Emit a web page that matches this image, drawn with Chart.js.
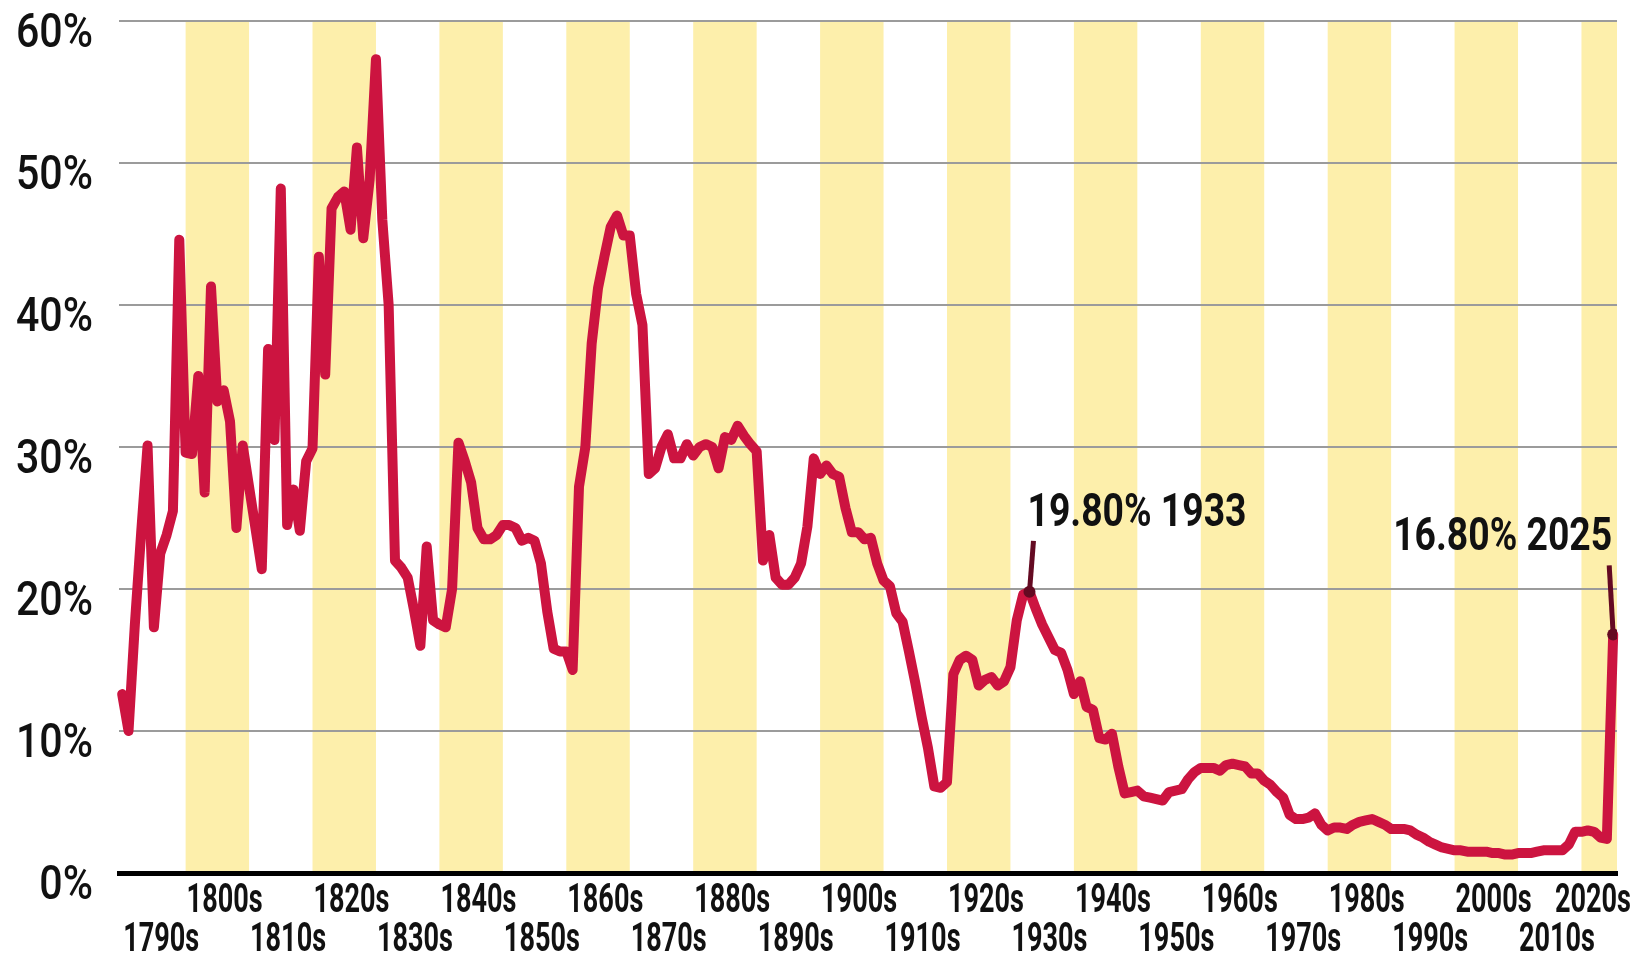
<!DOCTYPE html>
<html>
<head>
<meta charset="utf-8">
<title>Average US tariff rate, 1790-2025</title>
<script src="https://cdn.jsdelivr.net/npm/chart.js@4.4.1/dist/chart.umd.min.js"></script>
<style>
  html, body { margin: 0; padding: 0; background: #fff; }
  #wrap { width: 1634px; height: 958px; }
</style>
</head>
<body>
<div id="wrap"><canvas id="tariffChart" width="1634" height="958"></canvas></div>
<script>
const FONT = "Roboto, 'Liberation Sans', sans-serif";

// average tariff rate, one value per year from 1790 to 2025
const firstYear = 1790;
const rates = [
  12.6, 10.0, 17.5, 24.0, 30.1, 17.3, 22.5, 23.8, 25.5, 44.6,   // 1790s
  29.6, 29.5, 35.0, 26.8, 41.3, 33.2, 34.0, 31.8, 24.3, 30.1,   // 1800s
  27.2, 24.3, 21.4, 36.9, 30.5, 48.2, 24.5, 27.0, 24.1, 29.0,   // 1810s
  29.9, 43.4, 35.1, 46.8, 47.6, 48.0, 45.3, 51.1, 44.7, 48.8,   // 1820s
  57.3, 46.0, 40.0, 22.0, 21.5, 20.8, 18.5, 16.0, 23.0, 17.8,   // 1830s
  17.5, 17.3, 20.0, 30.3, 29.0, 27.5, 24.3, 23.5, 23.5, 23.8,   // 1840s
  24.5, 24.5, 24.3, 23.4, 23.6, 23.4, 21.8, 18.4, 15.8, 15.6,   // 1850s
  15.6, 14.3, 27.2, 30.0, 37.3, 41.2, 43.4, 45.5, 46.3, 44.9,   // 1860s
  44.9, 40.8, 38.6, 28.1, 28.5, 30.0, 30.9, 29.2, 29.2, 30.2,   // 1870s
  29.4, 30.0, 30.2, 30.0, 28.5, 30.7, 30.5, 31.5, 30.8, 30.2,   // 1880s
  29.7, 22.0, 23.8, 20.8, 20.3, 20.3, 20.8, 21.8, 24.4, 29.2,   // 1890s
  28.1, 28.7, 28.1, 27.9, 25.7, 24.0, 24.0, 23.5, 23.6, 21.8,   // 1900s
  20.6, 20.2, 18.3, 17.7, 15.6, 13.4, 11.0, 8.8, 6.1, 6.0,      // 1910s
  6.4, 14.0, 15.0, 15.3, 15.0, 13.2, 13.6, 13.8, 13.2, 13.5,    // 1920s
  14.5, 17.8, 19.6, 19.8, 18.6, 17.5, 16.6, 15.7, 15.5, 14.3,   // 1930s
  12.6, 13.5, 11.7, 11.5, 9.5, 9.4, 9.8, 7.5, 5.6, 5.7,         // 1940s
  5.8, 5.4, 5.3, 5.2, 5.1, 5.7, 5.8, 5.9, 6.6, 7.1,             // 1950s
  7.4, 7.4, 7.4, 7.2, 7.6, 7.7, 7.6, 7.5, 7.0, 7.0,             // 1960s
  6.5, 6.2, 5.7, 5.3, 4.1, 3.8, 3.8, 3.9, 4.2, 3.4,             // 1970s
  3.0, 3.2, 3.2, 3.1, 3.4, 3.6, 3.7, 3.8, 3.6, 3.4,             // 1980s
  3.1, 3.1, 3.1, 3.0, 2.7, 2.5, 2.2, 2.0, 1.8, 1.7,             // 1990s
  1.6, 1.6, 1.5, 1.5, 1.5, 1.5, 1.4, 1.4, 1.3, 1.3,             // 2000s
  1.4, 1.4, 1.4, 1.5, 1.6, 1.6, 1.6, 1.6, 2.0, 2.9,             // 2010s
  2.9, 3.0, 2.9, 2.5, 2.4, 16.8                                 // 2020s
];
const years = rates.map((r, i) => firstYear + i);

// y axis ticks
const yTicks = [0, 10, 20, 30, 40, 50, 60];

// decade tick labels along the bottom
const decadeStarts = [1790, 1800, 1810, 1820, 1830, 1840, 1850, 1860, 1870, 1880, 1890, 1900,
  1910, 1920, 1930, 1940, 1950, 1960, 1970, 1980, 1990, 2000, 2010, 2020];
const decadeLabels = ['1790s', '1800s', '1810s', '1820s', '1830s', '1840s', '1850s', '1860s',
  '1870s', '1880s', '1890s', '1900s', '1910s', '1920s', '1930s', '1940s', '1950s', '1960s',
  '1970s', '1980s', '1990s', '2000s', '2010s', '2020s'];

// yellow background stripes
const shadedDecades = [1800, 1820, 1840, 1860, 1880, 1900, 1920, 1940, 1960, 1980, 2000, 2020];

// highlighted points
const calloutYears = [1933, 2025];
const calloutLabels = ['19.80% 1933', '16.80% 2025'];

const lineData = years.map((yr, i) => ({ x: yr, y: rates[i] }));
const calloutData = calloutYears.map(yr => ({ x: yr, y: rates[yr - firstYear] }));

// the original uses a very condensed face; squeeze the installed one to the same width
function squeezeFor(ctx, sample, width) {
  return Math.min(1, width / ctx.measureText(sample).width);
}
function drawSqueezed(ctx, text, x, y, sx, align) {
  const w = ctx.measureText(text).width * sx;
  const left = align === 'right' ? x - w : x;
  ctx.save();
  ctx.translate(left, y);
  ctx.scale(sx, 1);
  ctx.textAlign = 'left';
  ctx.fillText(text, 0, 0);
  ctx.restore();
  return w;
}

// yellow decade stripes under everything
const decadeBands = {
  id: 'decadeBands',
  beforeDraw(chart) {
    const { ctx, chartArea: a, scales: { x } } = chart;
    ctx.save();
    ctx.fillStyle = '#fdefab';
    shadedDecades.forEach(d => {
      const x0 = Math.max(x.getPixelForValue(d), a.left);
      const x1 = Math.min(x.getPixelForValue(d + 10), a.right);
      ctx.fillRect(x0, a.top, x1 - x0, a.bottom - a.top);
    });
    ctx.restore();
  }
};

// axis labels: percent on the left, two staggered rows of decades below
const axisLabels = {
  id: 'axisLabels',
  afterDraw(chart) {
    const { ctx, chartArea: a, scales: { x, y } } = chart;
    ctx.save();
    ctx.fillStyle = '#111';
    ctx.textBaseline = 'alphabetic';

    ctx.font = '500 48px ' + FONT;
    const sy = squeezeFor(ctx, '60%', 77);
    yTicks.forEach(v => {
      drawSqueezed(ctx, v + '%', a.left - 26, y.getPixelForValue(v) + 26, sy, 'right');
    });

    ctx.font = '700 41px ' + FONT;
    const sx = squeezeFor(ctx, '1800s', 76);
    decadeStarts.forEach((d, i) => {
      const upper = (d / 10) % 2 === 0;
      const w = ctx.measureText(decadeLabels[i]).width * sx;
      let left = x.getPixelForValue(d) + 1;
      if (left + w > chart.width - 3) left = chart.width - 3 - w;
      drawSqueezed(ctx, decadeLabels[i], left, a.bottom + (upper ? 39 : 78), sx, 'left');
    });
    ctx.restore();
  }
};

// leader lines and value labels for the highlighted points
const callouts = {
  id: 'callouts',
  afterDatasetsDraw(chart) {
    const { ctx, scales: { x, y } } = chart;
    ctx.save();
    ctx.strokeStyle = '#640a22';
    ctx.lineWidth = 5;
    ctx.fillStyle = '#111';
    ctx.font = '700 47px ' + FONT;
    ctx.textBaseline = 'alphabetic';
    const sc = squeezeFor(ctx, calloutLabels[1], 219);
    calloutYears.forEach((yr, i) => {
      const px = x.getPixelForValue(yr);
      const py = y.getPixelForValue(rates[yr - firstYear]);
      const last = i === calloutYears.length - 1;
      ctx.beginPath();
      ctx.moveTo(last ? px - 4 : px + 4, last ? py - 69 : py - 51);
      ctx.lineTo(px, py);
      ctx.stroke();
      if (last) {
        drawSqueezed(ctx, calloutLabels[i], px - 1, py - 84, sc, 'right');
      } else {
        drawSqueezed(ctx, calloutLabels[i], px - 2, py - 66, sc, 'left');
      }
    });
    ctx.restore();
  }
};

new Chart(document.getElementById('tariffChart'), {
  type: 'line',
  data: {
    datasets: [{
      data: calloutData,
      showLine: false,
      pointRadius: 6,
      pointBackgroundColor: '#640a22',
      pointBorderWidth: 0,
      order: 0
    }, {
      data: lineData,
      borderColor: '#cc1440',
      borderWidth: 10,
      borderJoinStyle: 'round',
      borderCapStyle: 'round',
      pointRadius: 0,
      tension: 0,
      clip: 12,
      order: 1
    }]
  },
  options: {
    responsive: false,
    animation: false,
    devicePixelRatio: 1,
    layout: { padding: { top: 21, right: 17, left: 0, bottom: 0 } },
    plugins: {
      legend: { display: false },
      tooltip: { enabled: false }
    },
    scales: {
      x: {
        type: 'linear',
        min: 1789.5,
        max: 2025.6,
        grid: { display: false },
        border: { display: true, color: '#000', width: 5 },
        ticks: { display: false },
        afterFit: scale => { scale.height = 85; }
      },
      y: {
        min: 0,
        max: 60,
        ticks: { display: false, stepSize: 10 },
        grid: {
          color: c => c.tick && c.tick.value === 0 ? 'rgba(0,0,0,0)' : '#9b9b9b',
          lineWidth: 2,
          drawTicks: false
        },
        border: { display: false },
        afterFit: scale => {
          scale.width = 119;
          scale.paddingTop = 0;
          scale.paddingBottom = 0;
        }
      }
    }
  },
  plugins: [decadeBands, axisLabels, callouts]
});
</script>
</body>
</html>
